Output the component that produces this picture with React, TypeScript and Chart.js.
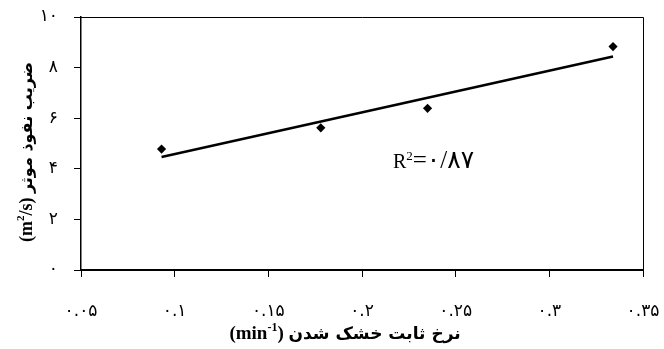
import React, { useEffect, useRef } from "react";
import { Chart, registerables } from "chart.js";

Chart.register(...registerables);

// ---- data ----
const pointX = [0.093, 0.178, 0.235, 0.334];
const pointY = [4.78, 5.62, 6.39, 8.83];
const trendX = [0.093, 0.334];
const trendY = [4.47, 8.44];

const xTicks = [0.05, 0.1, 0.15, 0.2, 0.25, 0.3, 0.35];
const xTickLabels = ["۰.۰۵", "۰.۱", "۰.۱۵", "۰.۲", "۰.۲۵", "۰.۳", "۰.۳۵"];
const yTicks = [0, 2, 4, 6, 8, 10];
const yTickLabels = ["۰", "۲", "۴", "۶", "۸", "۱۰"];

const xTitleFa = "نرخ ثابت خشک شدن";
const xTitleUnit = ["(min", "-1", ")"];
const yTitleFa = "ضریب نفوذ موثر";
const yTitleUnit = ["(m", "2", "/s)"];
const r2Parts = ["R", "2", "=۰/۸۷"];
const r2At = [0.2165, 4.03];

type Part = { text: string; font: string; dy: number };

function drawRich(ctx: CanvasRenderingContext2D, parts: Part[], cx: number, baseline: number) {
  let total = 0;
  const widths = parts.map((p) => {
    ctx.font = p.font;
    const w = ctx.measureText(p.text).width;
    total += w;
    return w;
  });
  let x = cx - total / 2;
  ctx.textAlign = "left";
  ctx.textBaseline = "alphabetic";
  parts.forEach((p, i) => {
    ctx.font = p.font;
    ctx.fillText(p.text, x, baseline + p.dy);
    x += widths[i];
  });
}

const SERIF_B = (s: number) => `bold ${s}px "Liberation Serif", "Times New Roman", serif`;
const FA_B = (s: number) => `bold ${s}px "DejaVu Sans", sans-serif`;

const decorPlugin = {
  id: "decor",
  afterDraw(chart: any) {
    const { ctx, chartArea } = chart;
    const xs = chart.scales.x;
    const ys = chart.scales.y;
    ctx.save();
    // top and right frame
    ctx.strokeStyle = "#000";
    ctx.lineWidth = 1;
    ctx.beginPath();
    ctx.moveTo(chartArea.left, chartArea.top + 0.5);
    ctx.lineTo(chartArea.right + 0.5, chartArea.top + 0.5);
    ctx.lineTo(chartArea.right + 0.5, chartArea.bottom);
    ctx.stroke();

    ctx.fillStyle = "#000";
    // x title
    const xParts: Part[] = [
      { text: xTitleUnit[0], font: SERIF_B(19), dy: 0 },
      { text: xTitleUnit[1], font: SERIF_B(12), dy: -8 },
      { text: xTitleUnit[2] + " ", font: SERIF_B(19), dy: 0 },
      { text: xTitleFa, font: FA_B(17), dy: 0 },
    ];
    drawRich(ctx, xParts, 345, 339);

    // y title (rotated)
    ctx.save();
    ctx.translate(32, 152);
    ctx.rotate(-Math.PI / 2);
    const yParts: Part[] = [
      { text: yTitleUnit[0], font: SERIF_B(18), dy: 0 },
      { text: yTitleUnit[1], font: SERIF_B(11), dy: -8 },
      { text: yTitleUnit[2] + " ", font: SERIF_B(18), dy: 0 },
      { text: yTitleFa, font: FA_B(16), dy: 0 },
    ];
    drawRich(ctx, yParts, 0, 0);
    ctx.restore();

    // R^2 annotation placed in data coordinates
    const px = xs.getPixelForValue(r2At[0]);
    const py = ys.getPixelForValue(r2At[1]);
    ctx.textAlign = "left";
    ctx.textBaseline = "alphabetic";
    let x = px;
    ctx.font = `20px "Liberation Serif", "Times New Roman", serif`;
    ctx.fillText(r2Parts[0], x, py);
    x += ctx.measureText(r2Parts[0]).width;
    ctx.font = `13px "Liberation Serif", "Times New Roman", serif`;
    ctx.fillText(r2Parts[1], x, py - 8);
    x += ctx.measureText(r2Parts[1]).width;
    ctx.font = `25px "Liberation Serif", "DejaVu Sans", serif`;
    ctx.fillText(r2Parts[2], x, py);
    ctx.restore();
  },
};

export default function App() {
  const ref = useRef<HTMLCanvasElement | null>(null);

  useEffect(() => {
    if (!ref.current) return;
    const chart = new Chart(ref.current, {
      type: "scatter",
      data: {
        datasets: [
          {
            label: "points",
            data: pointX.map((x, i) => ({ x, y: pointY[i] })),
            pointStyle: "rectRot",
            pointRadius: 4.6,
            backgroundColor: "#000",
            borderColor: "#000",
            borderWidth: 0,
            showLine: false,
          },
          {
            label: "trend",
            data: trendX.map((x, i) => ({ x, y: trendY[i] })),
            showLine: true,
            borderColor: "#000",
            borderWidth: 2.5,
            pointRadius: 0,
            fill: false,
          },
        ],
      } as any,
      options: {
        animation: false,
        responsive: false,
        devicePixelRatio: 1,
        layout: { padding: { left: 0, right: 21, top: 17, bottom: 0 } },
        plugins: { legend: { display: false }, tooltip: { enabled: false } },
        scales: {
          x: {
            type: "linear",
            min: 0.05,
            max: 0.35,
            afterBuildTicks: (s: any) => {
              s.ticks = xTicks.map((v) => ({ value: v }));
            },
            afterFit: (s: any) => {
              s.height = 79;
              s.paddingLeft = 0;
              s.paddingRight = 0;
            },
            ticks: {
              callback: (_v: any, i: number) => xTickLabels[i],
              font: { family: '"DejaVu Sans", sans-serif', size: 17 },
              color: "#000",
              padding: 24,
              maxRotation: 0,
              autoSkip: false,
            },
            grid: { drawOnChartArea: false, drawTicks: true, tickLength: 7, color: "#000", lineWidth: 1 },
            border: { color: "#000", width: 2 },
          },
          y: {
            type: "linear",
            min: 0,
            max: 10,
            afterBuildTicks: (s: any) => {
              s.ticks = yTicks.map((v) => ({ value: v }));
            },
            afterFit: (s: any) => {
              s.width = 81;
              s.paddingTop = 0;
              s.paddingBottom = 0;
            },
            ticks: {
              callback: (_v: any, i: number) => yTickLabels[i],
              font: { family: '"DejaVu Sans", sans-serif', size: 17 },
              color: "#000",
              padding: 16,
              autoSkip: false,
            },
            grid: { drawOnChartArea: false, drawTicks: true, tickLength: 7, color: "#000", lineWidth: 1 },
            border: { color: "#000", width: 1.5 },
          },
        },
      } as any,
      plugins: [decorPlugin],
    });
    return () => chart.destroy();
  }, []);

  return (
    <div style={{ position: "absolute", left: 0, top: 0, width: 664, height: 349, background: "#fff" }}>
      <canvas ref={ref} width={664} height={349} style={{ display: "block" }} />
    </div>
  );
}
